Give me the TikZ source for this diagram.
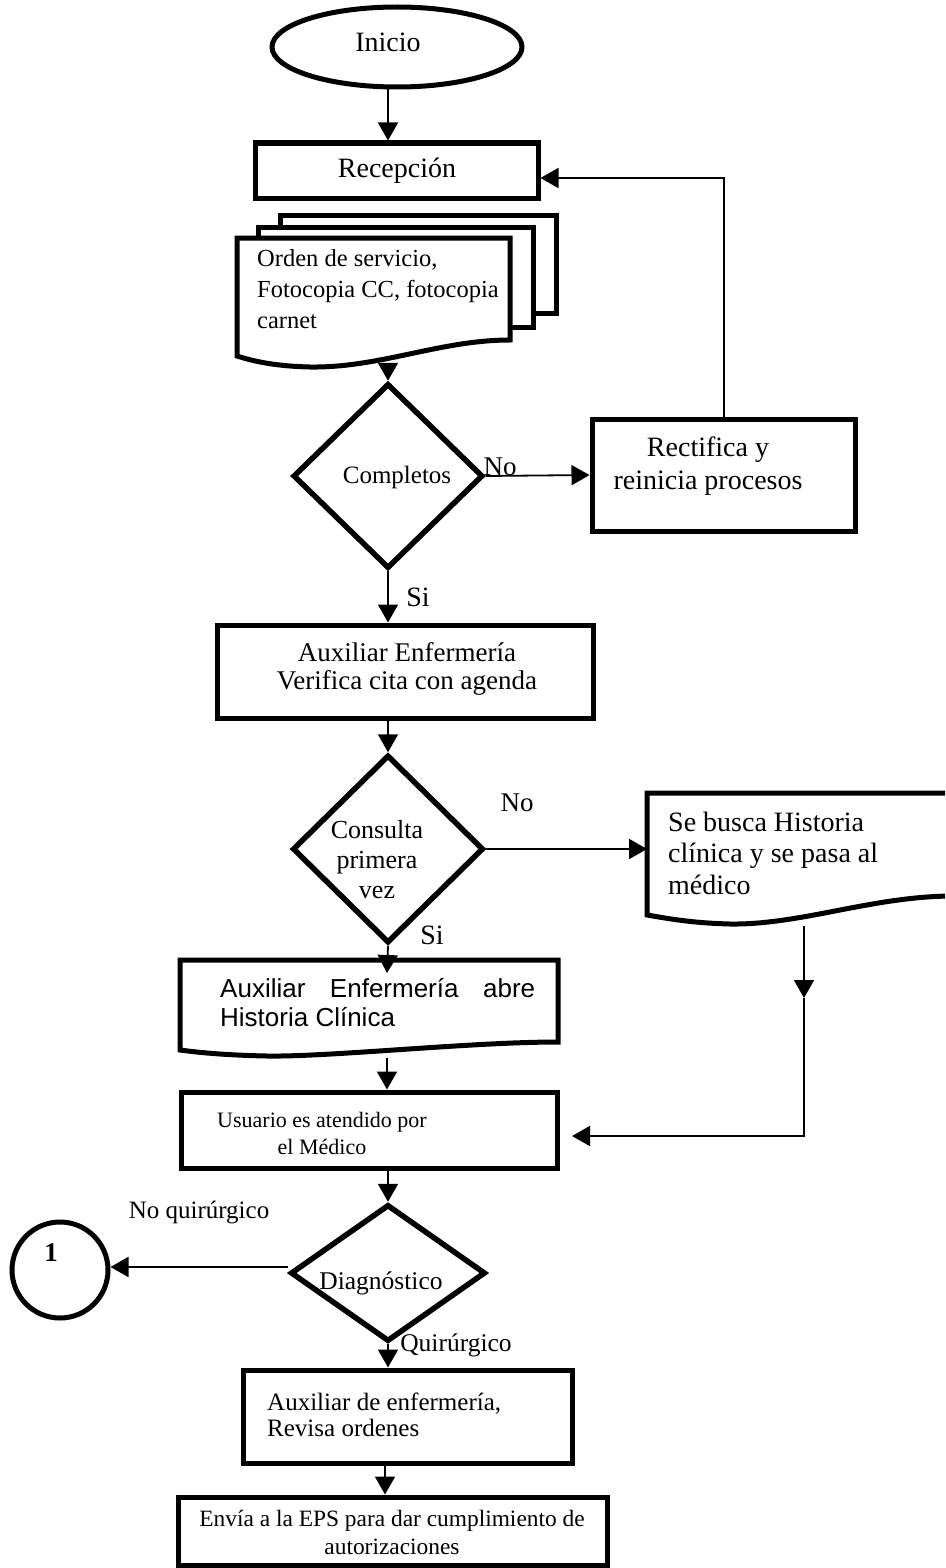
\documentclass[tikz,border=0pt]{standalone}
\usepackage{fontspec}
\setmainfont{Liberation Serif}
\newfontfamily\arialfont{Liberation Sans}
\usetikzlibrary{shapes.geometric,arrows.meta}
\newcommand\setfs[2]{\fontsize{#1}{#2}\selectfont}
\begin{document}
\begin{tikzpicture}[x=1pt,y=-1pt,
  box/.style={draw,rectangle,line width=5pt,inner sep=0pt,fill=white},
  decision/.style={draw,diamond,line width=5.5pt,inner sep=0pt,fill=white},
  docshape/.style={draw,line width=5pt,fill=white},
  arr/.style={line width=1.8pt,-{Triangle[length=18pt,width=20pt]}},
  lbl/.style={inner sep=0pt},
]
\useasboundingbox (0,0) rectangle (945,1568);
\clip (0,0) rectangle (945,1568);
\coordinate (spine) at (388,0);

% ---- shapes ----
\node[draw,ellipse,line width=5pt,inner sep=0pt,minimum width=250,minimum height=80] (ini) at (397,47) {};
\node[lbl,font=\setfs{28}{33}] (iniT) at (388,42) {Inicio};

\node[box,minimum width=283,minimum height=55] (rec) at (396.5,170.5) {};
\node[lbl,font=\setfs{28}{33}] (recT) at (397,171) {Recepción};

% stacked documents
\draw[docshape] (280,215) rectangle (556,313);
\draw[docshape] (258,227) rectangle (533,327);
\draw[docshape] (237,238) -- (510,238) -- (510,340)
  .. controls (440,340) and (380,368) .. (310,367)
  .. controls (270,366) and (250,360) .. (237,356) -- cycle;
\node[lbl,anchor=west,align=left,font=\setfs{24.5}{31}] (docT) at (257,289)
  {Orden de servicio,\\Fotocopia CC, fotocopia\\carnet};
\coordinate (stackout) at (388,363);

\node[decision,minimum width=190,minimum height=185] (comp) at (388,476) {};
\node[lbl,font=\setfs{25}{30}] (compT) at (397,477) {Completos};

\node[box,minimum width=263,minimum height=112] (rect) at (723.5,475) {};
\node[lbl,align=center,font=\setfs{28}{33}] (rectT) at (708,466) {Rectifica y\\reinicia procesos};

\node[box,minimum width=376,minimum height=93] (ver) at (405,671.5) {};
\node[lbl,align=center,font=\setfs{27}{28}] (verT) at (407,669) {Auxiliar Enfermería\\Verifica cita con agenda};

\node[decision,minimum width=191,minimum height=188] (cons) at (388,849) {};
\node[lbl,align=center,font=\setfs{26}{30}] (consT) at (377,860) {Consulta\\primera\\vez};

% document: Se busca Historia
\draw[docshape] (647,793) -- (950,793) -- (950,896)
  .. controls (870,897) and (800,925) .. (730,924)
  .. controls (690,923) and (665,918) .. (647,915) -- cycle;
\node[lbl,anchor=west,align=left,font=\setfs{28}{31.5}] (sbT) at (668,853)
  {Se busca Historia\\clínica y se pasa al\\médico};
\coordinate (sbin) at (647,849);
\coordinate (sbout) at (804,926);
\coordinate (sbmid) at (804,998);
\coordinate (sbcorner) at (804,1136);

% document: Auxiliar abre Historia
\draw[docshape] (180,960) -- (558,960) -- (558,1042)
  .. controls (470,1042) and (330,1057) .. (267,1056)
  .. controls (220,1055) and (195,1052) .. (180,1050) -- cycle;
\node[lbl,anchor=west,align=left,font=\arialfont\setfs{26}{29}] (abT) at (220,1002.5)
  {\makebox[315pt]{Auxiliar\hfill Enfermería\hfill abre}\\Historia Clínica};
\coordinate (abin) at (387,973);
\coordinate (about) at (387,1058);

\node[box,minimum width=376,minimum height=76] (us) at (369,1130) {};
\node[lbl,align=center,font=\setfs{22}{27}] (usT) at (322,1133) {Usuario es atendido por\\el Médico};
\coordinate (usin) at (572,1136);

\node[decision,minimum width=195,minimum height=137] (dg) at (388,1273) {};
\node[lbl,font=\setfs{25.5}{30}] (dgT) at (381,1283) {Diagnóstico};

\node[draw,circle,line width=5pt,inner sep=0pt,minimum size=96] (c1) at (60,1270) {};
\node[lbl,font=\bfseries\setfs{27}{30}] (c1T) at (51,1253) {1};

\node[box,minimum width=329,minimum height=93] (aux2) at (407.5,1416.5) {};
\node[lbl,anchor=west,align=left,font=\setfs{25}{26}] (aux2T) at (267,1415)
  {Auxiliar de enfermería,\\Revisa ordenes};

\node[box,minimum width=429,minimum height=68] (eps) at (392.5,1531) {};
\node[lbl,align=center,font=\setfs{23.4}{28}] (epsT) at (392,1532)
  {Envía a la EPS para dar cumplimiento de\\autorizaciones};

% ---- connector labels ----
\node[lbl,font=\setfs{27}{30}] (noA) at (500,467) {No};
\node[lbl,font=\setfs{28}{30}] (siA) at (418,597) {Si};
\node[lbl,font=\setfs{27}{30}] (noB) at (517,803) {No};
\node[lbl,font=\setfs{28}{30}] (siB) at (432,935) {Si};
\node[lbl,font=\setfs{25}{30}] (noQ) at (199,1212) {No quirúrgico};
\node[lbl,font=\setfs{25.5}{30}] (quir) at (456,1345) {Quirúrgico};

% ---- connectors ----
\draw[arr] (ini.south -| spine) -- (rec.north -| spine);
\draw[arr] (stackout) -- (comp.north);
\draw[arr] (comp.east) -- (rect.west);
\coordinate (fb) at (724,178);
\draw[arr] (rect.north -| fb) -- (fb) -- (fb -| rec.east);
\draw[arr] (comp.south) -- (ver.north -| spine);
\draw[arr] (ver.south -| cons.north) -- (cons.north);
\draw[arr] (cons.east) -- (sbin);
\draw[arr] (cons.south) -- (abin);
\draw[arr] (sbout) -- (sbmid);
\draw[arr] (sbmid) -- (sbcorner) -- (usin);
\draw[arr] (about) -- (us.north -| about);
\draw[arr] (us.south -| dg.north) -- (dg.north);
\draw[arr] ([yshift=6pt]dg.west) -- ([yshift=6pt]dg.west -| c1.east);
\draw[arr] (dg.south) -- (aux2.north -| dg.south);
\coordinate (lowspine) at (385,0);
\draw[arr] (aux2.south -| lowspine) -- (eps.north -| lowspine);
\end{tikzpicture}
\end{document}
